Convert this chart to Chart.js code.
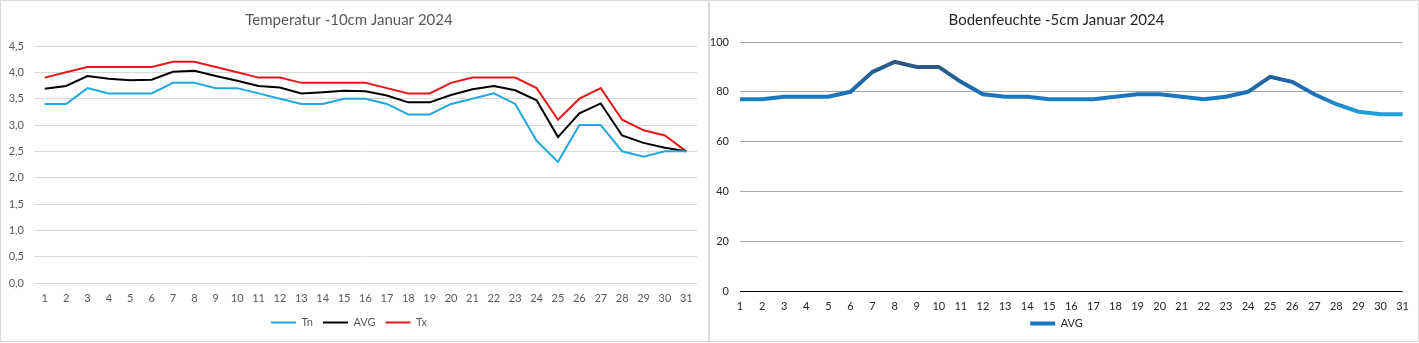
<!DOCTYPE html>
<html>
<head>
<meta charset="utf-8">
<script src="https://cdn.jsdelivr.net/npm/chart.js@4"></script>
<style>
  body { margin: 0; background: #fff; }
  .panel { position: absolute; top: 0; height: 342px; box-sizing: border-box; border: 1px solid #d9d9d9; background: #fff; }
  #p1 { left: 0; width: 709px; }
  #p2 { left: 709px; width: 710px; }
  .panel div { position: absolute; left: 0; top: 0; right: 0; bottom: 0; }
</style>
</head>
<body>
<div class="panel" id="p1"><div><canvas id="tempChart"></canvas></div></div>
<div class="panel" id="p2"><div><canvas id="soilChart"></canvas></div></div>
<script>
const days = [];
for (let d = 1; d <= 31; d++) days.push(String(d));

// Temperatur -10cm
const tn = [3.4, 3.4, 3.7, 3.6, 3.6, 3.6, 3.8, 3.8, 3.7, 3.7, 3.6, 3.5, 3.4, 3.4, 3.5, 3.5,
  3.4, 3.2, 3.2, 3.4, 3.5, 3.6, 3.4, 2.7, 2.3, 3.0, 3.0, 2.5, 2.4, 2.5, 2.5];
const avg = [3.69, 3.74, 3.93, 3.88, 3.85, 3.86, 4.01, 4.03, 3.93, 3.84, 3.74, 3.71, 3.60, 3.62, 3.65, 3.64,
  3.56, 3.43, 3.43, 3.57, 3.68, 3.74, 3.66, 3.47, 2.77, 3.22, 3.41, 2.80, 2.66, 2.57, 2.50];
const tx = [3.9, 4.0, 4.1, 4.1, 4.1, 4.1, 4.2, 4.2, 4.1, 4.0, 3.9, 3.9, 3.8, 3.8, 3.8, 3.8,
  3.7, 3.6, 3.6, 3.8, 3.9, 3.9, 3.9, 3.7, 3.1, 3.5, 3.7, 3.1, 2.9, 2.8, 2.5];

// Bodenfeuchte -5cm
const soilAvg = [77, 77, 78, 78, 78, 80, 88, 92, 90, 90, 84, 79, 78, 78, 77, 77,
  77, 78, 79, 79, 78, 77, 78, 80, 86, 84, 79, 75, 72, 71, 71];

const FONT = "Lato, 'Liberation Sans', sans-serif";

function lineSet(label, data, color) {
  return { label: label, data: data, borderColor: color, backgroundColor: color,
    borderWidth: 2, pointRadius: 0, tension: 0 };
}

new Chart(document.getElementById('tempChart'), {
  type: 'line',
  data: {
    labels: days,
    datasets: [lineSet('Tn', tn, '#23a7df'), lineSet('AVG', avg, '#000000'), lineSet('Tx', tx, '#e3191c')]
  },
  options: {
    responsive: true,
    maintainAspectRatio: false,
    animation: false,
    layout: { padding: { left: 0, right: 11, top: 0, bottom: 3 } },
    plugins: {
      title: { display: true, text: 'Temperatur -10cm Januar 2024', color: '#595959',
        font: { family: FONT, size: 15, weight: 'normal' }, padding: { top: 10, bottom: 17 } },
      legend: { position: 'bottom',
        labels: { color: '#595959', font: { family: FONT, size: 11 }, usePointStyle: true,
          pointStyle: 'line', pointStyleWidth: 25, boxHeight: 8, padding: 10 } },
      tooltip: { enabled: false }
    },
    scales: {
      x: { offset: true, grid: { display: false, drawTicks: false }, border: { display: false },
        afterFit: (s) => { s.height = 24; },
        ticks: { color: '#595959', font: { family: FONT, size: 11 }, autoSkip: false, maxRotation: 0, padding: 9 } },
      y: { min: 0, max: 4.5, border: { display: false },
        grid: { color: '#d9d9d9', drawTicks: false },
        afterFit: (s) => { s.width = 33; },
        ticks: { stepSize: 0.5, color: '#595959', font: { family: FONT, size: 11 }, padding: 10,
          callback: (v) => v.toFixed(1).replace('.', ',') } }
    }
  }
});

new Chart(document.getElementById('soilChart'), {
  type: 'line',
  data: {
    labels: days,
    datasets: [{
      label: 'AVG', data: soilAvg, borderWidth: 4, pointRadius: 0, tension: 0,
      backgroundColor: '#1c75bc',
      borderColor: (ctx) => {
        const chart = ctx.chart;
        if (!chart.chartArea) return '#1c75bc';
        const y = chart.scales.y;
        const g = chart.ctx.createLinearGradient(0, y.getPixelForValue(92), 0, y.getPixelForValue(71));
        g.addColorStop(0, '#2f5680');
        g.addColorStop(0.3, '#21609b');
        g.addColorStop(0.65, '#1c75bc');
        g.addColorStop(1, '#20a0dc');
        return g;
      }
    }]
  },
  options: {
    responsive: true,
    maintainAspectRatio: false,
    animation: false,
    layout: { padding: { left: 0, right: 15, top: 0, bottom: 2 } },
    plugins: {
      title: { display: true, text: 'Bodenfeuchte -5cm Januar 2024', color: '#262626',
        font: { family: FONT, size: 15, weight: 'normal' }, padding: { top: 10, bottom: 13 } },
      legend: { position: 'bottom',
        labels: { color: '#262626', font: { family: FONT, size: 11 }, usePointStyle: true,
          pointStyle: 'line', pointStyleWidth: 25, boxHeight: 8, padding: 4,
          generateLabels: (chart) => [{ text: 'AVG', fillStyle: '#1c75bc', strokeStyle: '#1c75bc',
            lineWidth: 4, pointStyle: 'line', datasetIndex: 0, fontColor: '#262626' }] } },
      tooltip: { enabled: false }
    },
    scales: {
      x: { offset: false, grid: { display: false, drawTicks: false }, border: { display: false },
        afterFit: (s) => { s.height = 23; },
        ticks: { color: '#262626', font: { family: FONT, size: 11 }, autoSkip: false, maxRotation: 0, padding: 9 } },
      y: { min: 0, max: 100, border: { display: false },
        grid: { color: (c) => c.tick.value === 0 ? '#000000' : '#a6a6a6', drawTicks: false },
        afterFit: (s) => { s.width = 30; },
        ticks: { stepSize: 20, color: '#262626', font: { family: FONT, size: 11 }, padding: 11 } }
    }
  }
});
</script>
</body>
</html>
